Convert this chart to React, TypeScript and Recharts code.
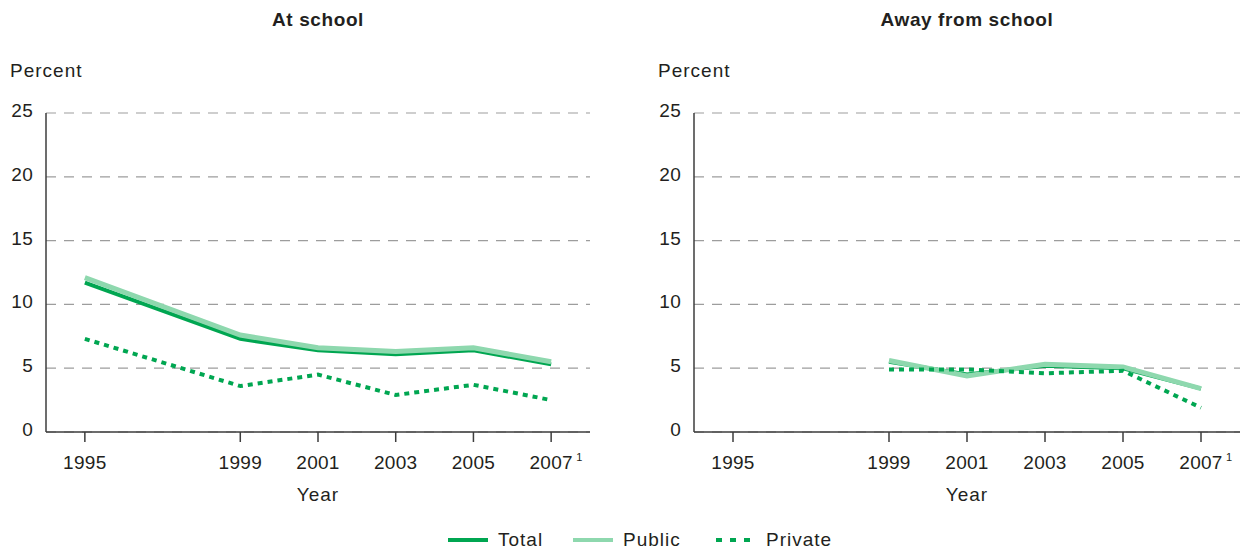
import React from 'react';
import { LineChart, Line, XAxis, YAxis, CartesianGrid } from 'recharts';

const years = [1995, 1999, 2001, 2003, 2005, 2007];
const yTicks = [0, 5, 10, 15, 20, 25];

const atSchoolTotal = [11.7, 7.3, 6.4, 6.1, 6.4, 5.3];
const atSchoolPublic = [12.1, 7.6, 6.6, 6.3, 6.6, 5.5];
const atSchoolPrivate = [7.3, 3.6, 4.5, 2.9, 3.7, 2.5];

const awayTotal = [null, 5.5, 4.5, 5.2, 5.0, 3.4];
const awayPublic = [null, 5.6, 4.4, 5.3, 5.1, 3.4];
const awayPrivate = [null, 4.9, 4.9, 4.6, 4.8, 1.9];

const DARK = '#00a651';
const LIGHT = '#8ed8ae';
const TEXT = '#231f20';
const FONT = '"Liberation Sans", Arial, sans-serif';

const buildRows = (total: (number | null)[], pub: (number | null)[], priv: (number | null)[]) =>
    years.map((year, i) => ({ year, total: total[i], public: pub[i], private: priv[i] }));

const YearTick = ({ x, y, payload }: any) => (
    <g>
        <text x={x} y={y} dy={14} textAnchor="middle" fill={TEXT} fontSize={19} letterSpacing={0.3} fontFamily={FONT}>
            {String(payload.value)}
        </text>
        {payload.value === 2007 && (
            <text x={x + 25} y={y} dy={6} textAnchor="start" fill={TEXT} fontSize={11} fontFamily={FONT}>
                1
            </text>
        )}
    </g>
);

const PercentTick = ({ x, y, payload }: any) => (
    <text x={x} y={y} dy={4} textAnchor="end" fill={TEXT} fontSize={19} letterSpacing={0.3} fontFamily={FONT}>
        {payload.value}
    </text>
);

const labelStyle: React.CSSProperties = {
    position: 'absolute',
    fontSize: 19,
    lineHeight: '19px',
    letterSpacing: 1,
    color: TEXT,
    fontFamily: FONT,
    whiteSpace: 'nowrap',
};

const Panel = ({ title, rows, left, width, right }: { title: string; rows: any[]; left: number; width: number; right: number }) => (
    <div style={{ position: 'absolute', left, top: 0, width, height: 482 }}>
        <div style={{ ...labelStyle, top: 10, left: 46, width: width - 46 - right, textAlign: 'center', fontWeight: 'bold', letterSpacing: 0.6 }}>
            {title}
        </div>
        <div style={{ ...labelStyle, top: 61, left: 10 }}>Percent</div>
        <div style={{ ...labelStyle, top: 485, left: 46, width: width - 46 - right, textAlign: 'center' }}>Year</div>
        <LineChart width={width} height={482} data={rows} margin={{ top: 113, right, left: 6, bottom: 12 }}>
            <CartesianGrid vertical={false} stroke="#9d9d9d" strokeDasharray="10 8" strokeWidth={1.2} />
            <XAxis
                dataKey="year"
                type="number"
                domain={[1994, 2008]}
                ticks={years}
                height={38}
                tickSize={10}
                tickMargin={13}
                stroke="#3d3d3d"
                strokeWidth={1.5}
                tick={<YearTick />}
                interval={0}
            />
            <YAxis
                domain={[0, 25]}
                ticks={yTicks}
                width={40}
                tickSize={0}
                tickMargin={13}
                stroke="#3d3d3d"
                strokeWidth={1.5}
                tick={<PercentTick />}
                interval={0}
            />
            <Line dataKey="total" stroke={DARK} strokeWidth={4} dot={false} isAnimationActive={false} />
            <Line dataKey="public" stroke={LIGHT} strokeWidth={5} dot={false} isAnimationActive={false} />
            <Line
                dataKey="private"
                stroke={DARK}
                strokeWidth={4}
                strokeDasharray="5 5"
                dot={false}
                isAnimationActive={false}
            />
        </LineChart>
    </div>
);

const LegendItem = ({ label, color, dash, x }: { label: string; color: string; dash?: string; x: number }) => (
    <div style={{ position: 'absolute', left: x, top: 528, display: 'flex', alignItems: 'center' }}>
        <svg width={42} height={24}>
            <line x1={1} y1={12} x2={41} y2={12} stroke={color} strokeWidth={4} strokeDasharray={dash} />
        </svg>
        <span style={{ marginLeft: 9, fontSize: 19, letterSpacing: 1, color: TEXT, fontFamily: FONT }}>{label}</span>
    </div>
);

export default function App() {
    const leftRows = buildRows(atSchoolTotal, atSchoolPublic, atSchoolPrivate);
    const rightRows = buildRows(awayTotal, awayPublic, awayPrivate);
    return (
        <div style={{ position: 'absolute', left: 0, top: 0, width: 1243, height: 552, background: '#fff', overflow: 'hidden' }}>
            <Panel title="At school" rows={leftRows} left={0} width={620} right={30} />
            <Panel title="Away from school" rows={rightRows} left={648} width={595} right={3} />
            <LegendItem label="Total" color={DARK} x={447} />
            <LegendItem label="Public" color={LIGHT} x={572} />
            <LegendItem label="Private" color={DARK} dash="6 8" x={715} />
        </div>
    );
}
